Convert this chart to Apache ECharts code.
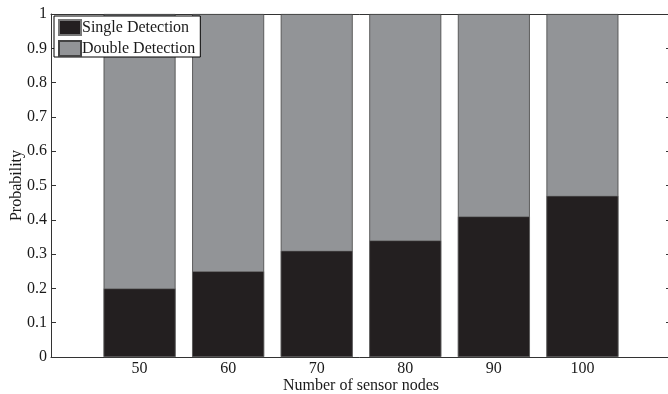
<!DOCTYPE html>
<html>
<head>
<meta charset="utf-8">
<script src="https://cdn.jsdelivr.net/npm/echarts@6/dist/echarts.min.js"></script>
<style>html,body{margin:0;padding:0;background:#fff;}#c{width:668px;height:394px;}</style>
</head>
<body>
<div id="c"></div>
<script>
const nodes = [50, 60, 70, 80, 90, 100];
const single = [0.20, 0.25, 0.31, 0.34, 0.41, 0.47];
const double = [0.80, 0.75, 0.69, 0.66, 0.59, 0.53];
const seriesNames = ['Single Detection', 'Double Detection'];
const yTicks = [0, 0.1, 0.2, 0.3, 0.4, 0.5, 0.6, 0.7, 0.8, 0.9, 1];

const font = 'Liberation Serif';
const axisColor = '#333';
const txt = '#1a1a1a';
const chart = echarts.init(document.getElementById('c'));
chart.setOption({
  animation: false,
  textStyle: {fontFamily: font},
  grid: {left: 51, top: 14, right: -3, bottom: 37, containLabel: false, outerBoundsMode: 'none'},
  legend: {
    orient: 'vertical', left: 54, top: 16,
    data: seriesNames,
    backgroundColor: '#fff', borderColor: '#000', borderWidth: 1,
    padding: [3, 5, 0, 4], itemGap: 4, itemWidth: 22, itemHeight: 15,
    textStyle: {fontFamily: font, fontSize: 16, color: txt, padding: [0, 0, 0, -4]},
    icon: 'rect'
  },
  xAxis: [{
    type: 'value', min: 40, max: 110, interval: 10,
    name: 'Number of sensor nodes', nameLocation: 'middle', nameGap: 21, nameMoveOverlap: false,
    nameTextStyle: {fontFamily: font, fontSize: 16, color: txt, verticalAlign: 'top'},
    axisLine: {show: true, lineStyle: {color: axisColor, width: 1}},
    axisTick: {show: false},
    splitLine: {show: false},
    axisLabel: {fontFamily: font, fontSize: 16, color: txt, margin: 4,
      formatter: v => nodes.indexOf(v) >= 0 ? String(v) : ''}
  }, {
    type: 'value', position: 'top', min: 40, max: 110,
    axisLine: {show: true, onZero: false, lineStyle: {color: axisColor, width: 1}},
    axisTick: {show: false}, axisLabel: {show: false}, splitLine: {show: false}
  }],
  yAxis: [{
    type: 'value', min: 0, max: 1, interval: 0.1,
    name: 'Probability', nameLocation: 'middle', nameGap: 26, nameMoveOverlap: false,
    nameTextStyle: {fontFamily: font, fontSize: 16, color: txt},
    axisLine: {show: true, lineStyle: {color: axisColor, width: 1}},
    axisTick: {show: true, inside: true, length: 5, lineStyle: {color: axisColor}},
    splitLine: {show: false},
    axisLabel: {fontFamily: font, fontSize: 16, color: txt, margin: 4,
      formatter: v => { const t = yTicks.find(x => Math.abs(x - v) < 1e-9); return t === undefined ? '' : String(+t.toFixed(1)); }}
  }, {
    type: 'value', position: 'right', min: 0, max: 1, interval: 0.1,
    axisLine: {show: true, lineStyle: {color: axisColor, width: 1}},
    axisTick: {show: true, inside: true, length: 5, lineStyle: {color: axisColor}},
    axisLabel: {show: false}, splitLine: {show: false}
  }],
  series: [{
    name: seriesNames[1], type: 'bar', barWidth: 72, barGap: '-100%', z: 2,
    itemStyle: {color: '#929497', borderColor: '#444', borderWidth: 0.8},
    data: nodes.map((n, i) => [n, single[i] + double[i]])
  }, {
    name: seriesNames[0], type: 'bar', barWidth: 72, barGap: '-100%', z: 3,
    itemStyle: {color: '#231f20', borderColor: '#777', borderWidth: 0.6},
    data: nodes.map((n, i) => [n, single[i]])
  }]
});
</script>
</body>
</html>
